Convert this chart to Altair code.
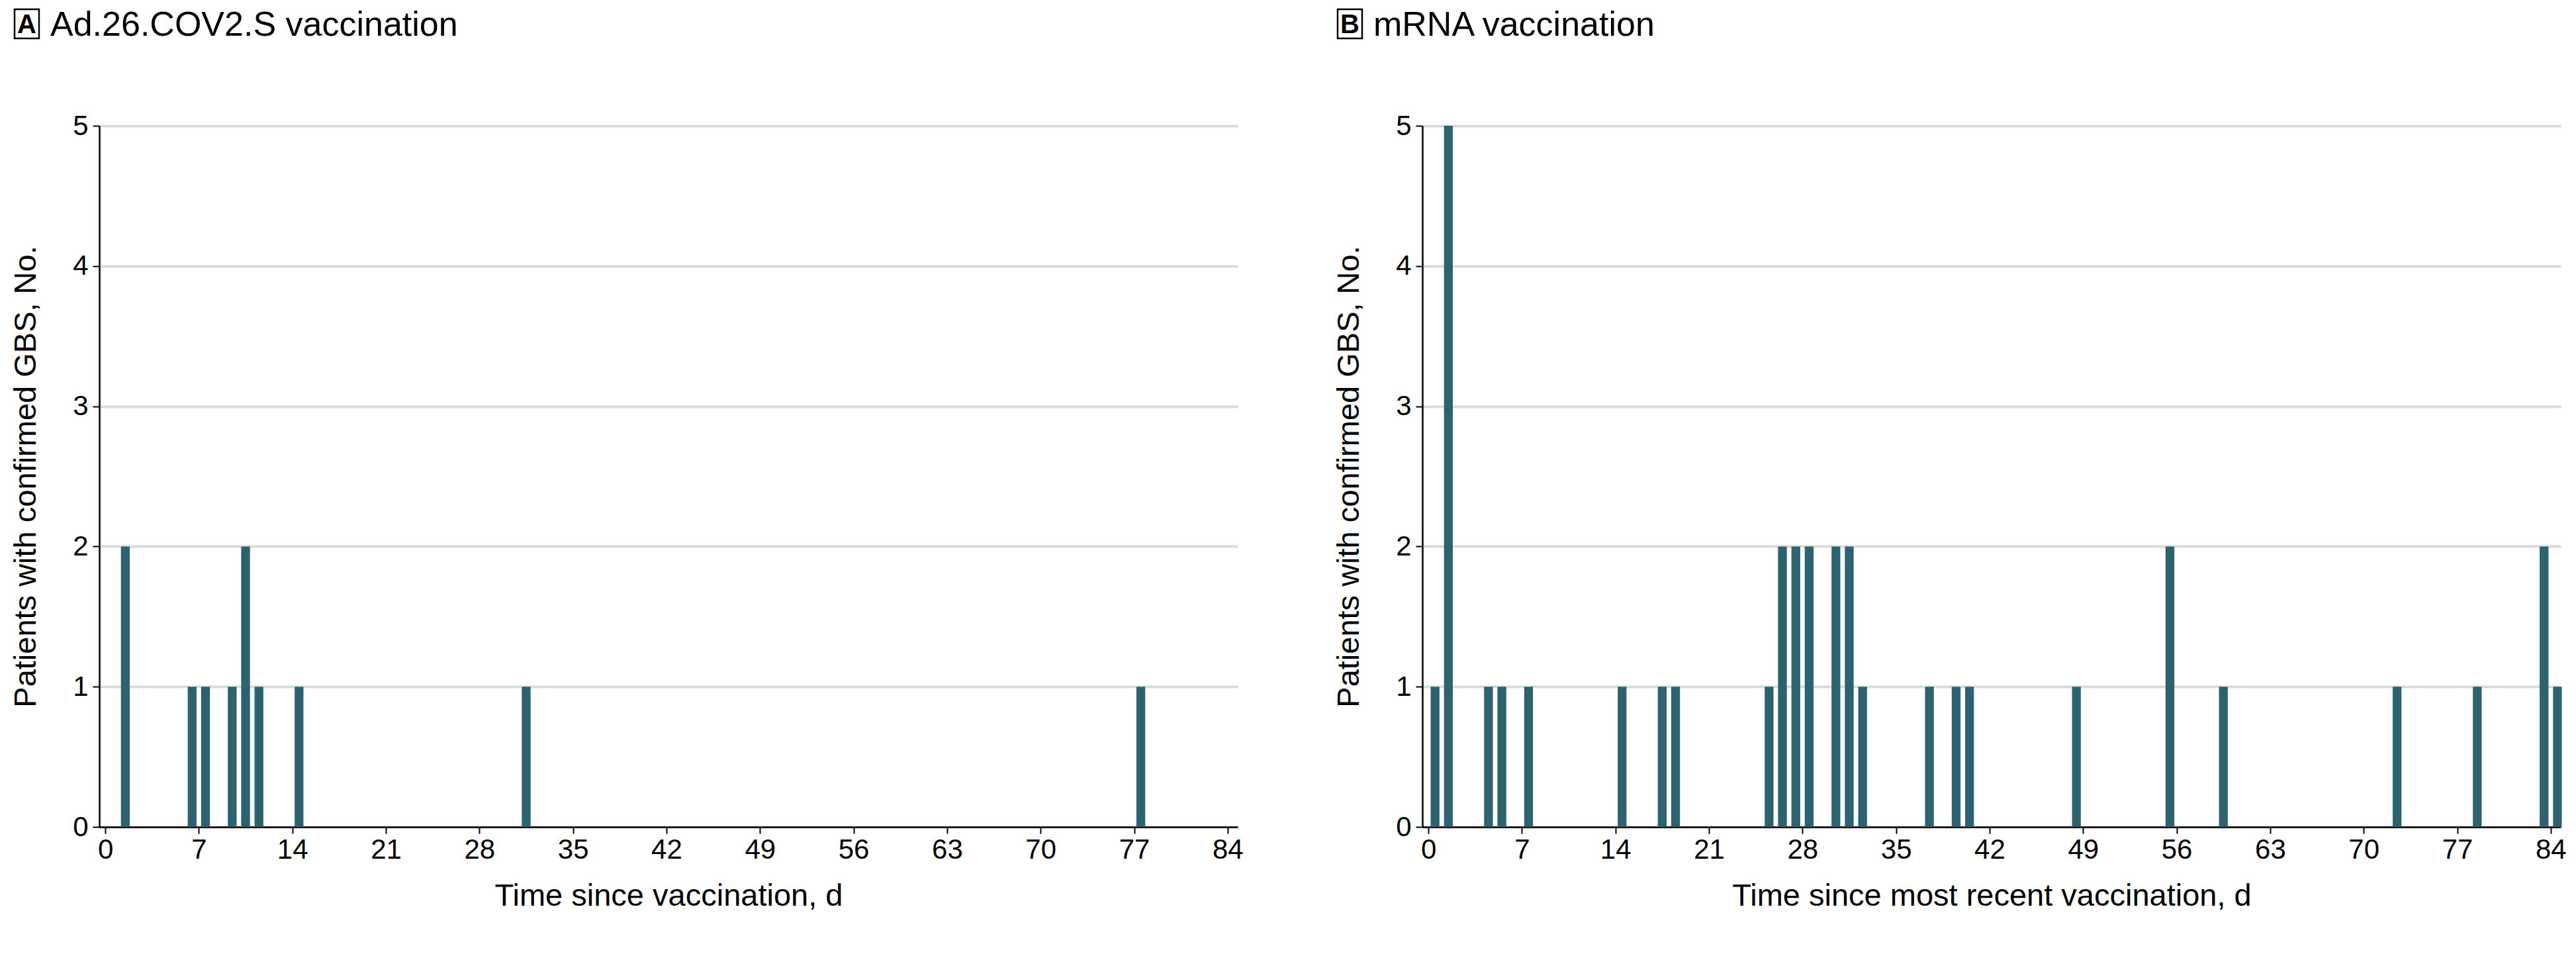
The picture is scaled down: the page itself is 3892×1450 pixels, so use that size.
import altair as alt
import pandas as pd

# ---- data ----
a_days = [1, 6, 7, 9, 10, 11, 14, 31, 77]
a_counts = [2, 1, 1, 1, 2, 1, 1, 1, 1]

b_days = [0, 1, 4, 5, 7, 14, 17, 18, 25, 26, 27, 28, 30, 31, 32,
          37, 39, 40, 48, 55, 59, 72, 78, 83, 84]
b_counts = [1, 5, 1, 1, 1, 1, 1, 1, 1, 2, 2, 2, 2, 2, 1,
            1, 1, 1, 1, 2, 1, 1, 1, 2, 1]

x_ticks = [0, 7, 14, 21, 28, 35, 42, 49, 56, 63, 70, 77, 84]
y_ticks = [0, 1, 2, 3, 4, 5]

panel_letters = ["A", "B"]
panel_titles = ["Ad.26.COV2.S vaccination", "mRNA vaccination"]
x_titles = ["Time since vaccination, d", "Time since most recent vaccination, d"]
y_title = "Patients with confirmed GBS, No."

BAR = "#2d6370"
GRID = "#d9d9d9"
FONT = "Liberation Sans, Arial"
W, H = 1720, 1059


def panel(days, counts, letter, title, xtitle):
    df = pd.DataFrame({"day": days, "count": counts})
    bars = (
        alt.Chart(df)
        .transform_calculate(x0="datum.day + 0.17", x1="datum.day + 0.83")
        .mark_rect(color=BAR)
        .encode(
            x=alt.X(
                "x0:Q",
                scale=alt.Scale(domain=[-0.45, 84.75], nice=False, zero=False),
                axis=alt.Axis(
                    values=x_ticks, title=xtitle, grid=False,
                    labelFontSize=42, titleFontSize=47, labelFont=FONT, titleFont=FONT,
                    titleFontWeight="normal", labelColor="black", titleColor="black",
                    domainColor="black", domainWidth=2.5, tickColor="black",
                    tickWidth=2, tickSize=10, labelPadding=4, titlePadding=26,
                ),
            ),
            x2="x1:Q",
            y=alt.Y(
                "count:Q",
                scale=alt.Scale(domain=[0, 5], nice=False),
                axis=alt.Axis(
                    values=y_ticks, title=y_title, grid=True, gridColor=GRID,
                    gridWidth=4, labelFontSize=42, titleFontSize=47,
                    labelFont=FONT, titleFont=FONT, titleFontWeight="normal",
                    labelColor="black", titleColor="black", domainColor="black",
                    domainWidth=2.5, tickColor="black", tickWidth=2, tickSize=10,
                    labelPadding=7, titlePadding=46,
                ),
            ),
            y2=alt.datum(0),
        )
    )
    lab = pd.DataFrame({"letter": [letter], "title": [title]})
    box = alt.Chart(lab).mark_rect(fill="white", stroke="black", strokeWidth=2.5).encode(
        x=alt.value(-128), x2=alt.value(-91), y=alt.value(-176), y2=alt.value(-132)
    )
    ltxt = alt.Chart(lab).mark_text(
        fontWeight="bold", fontSize=40, font=FONT, color="black", baseline="middle"
    ).encode(x=alt.value(-109.5), y=alt.value(-152), text="letter:N")
    ttxt = alt.Chart(lab).mark_text(
        fontSize=52, font=FONT, color="black", align="left", baseline="middle"
    ).encode(x=alt.value(-74), y=alt.value(-152), text="title:N")
    return alt.layer(bars, box, ltxt, ttxt).properties(width=W, height=H)


pa = panel(a_days, a_counts, panel_letters[0], panel_titles[0], x_titles[0])
pb = panel(b_days, b_counts, panel_letters[1], panel_titles[1], x_titles[1])

chart = (
    alt.hconcat(pa, pb, spacing=135)
    .properties(padding={"left": 7, "top": 4, "right": 5, "bottom": 5}, background="white")
    .configure_view(stroke=None)
)

chart.save("out.html", embed_options={"renderer": "svg", "actions": False})
